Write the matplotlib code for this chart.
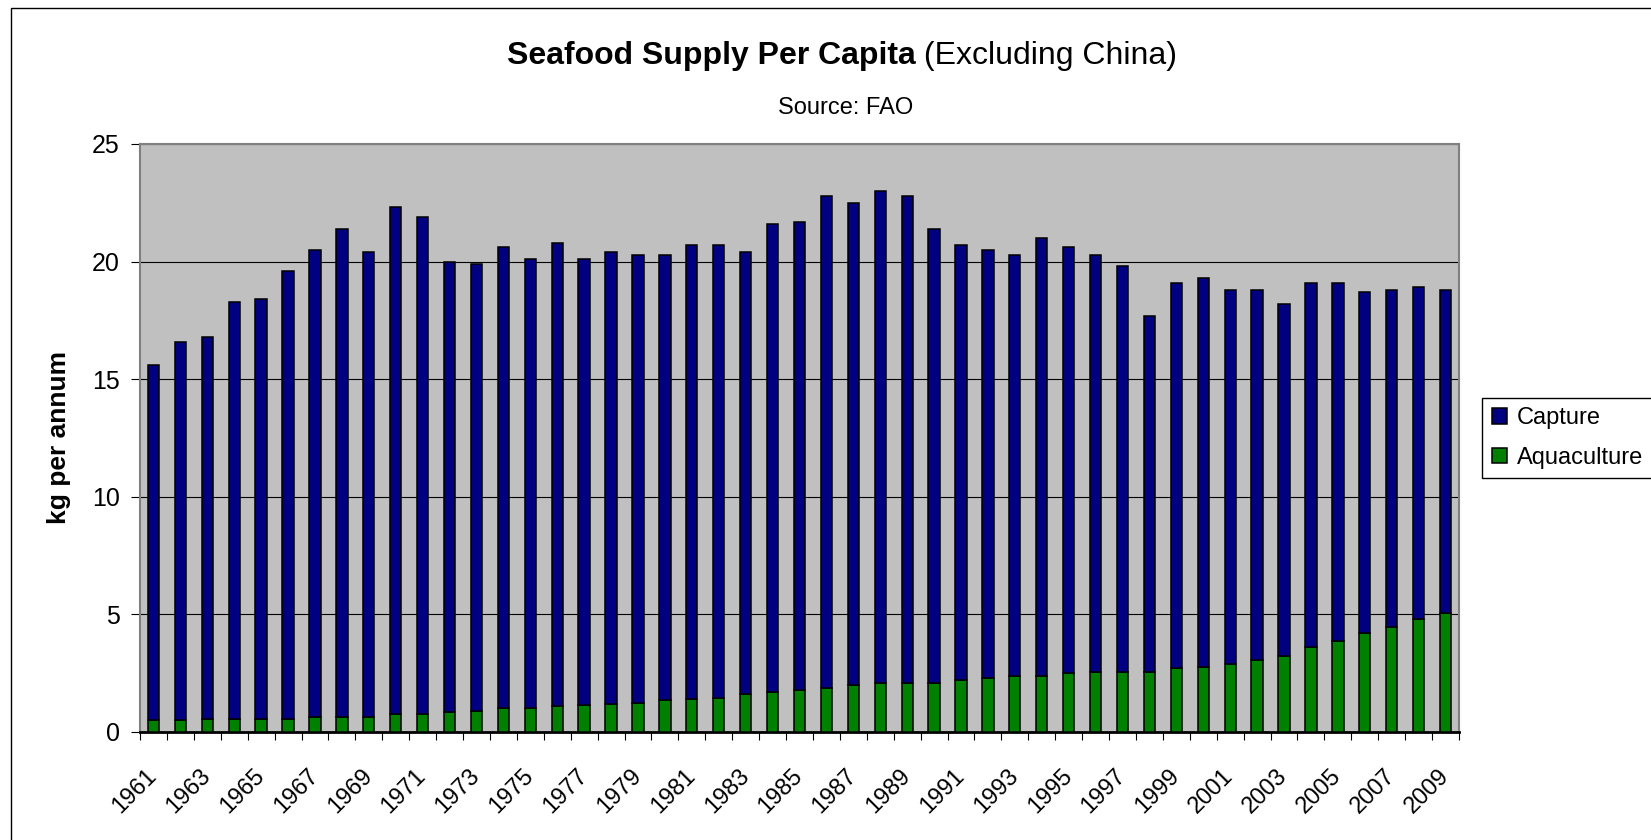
import numpy as np
import matplotlib.pyplot as plt
from matplotlib.patches import Rectangle

years = list(range(1961, 2010))
total = [15.6, 16.6, 16.8, 18.3, 18.4, 19.6, 20.5, 21.4, 20.4, 22.3,
         21.9, 20.0, 19.9, 20.6, 20.1, 20.8, 20.1, 20.4, 20.3, 20.3,
         20.7, 20.7, 20.4, 21.6, 21.7, 22.8, 22.5, 23.0, 22.8, 21.4,
         20.7, 20.5, 20.3, 21.0, 20.6, 20.3, 19.8, 17.7, 19.1, 19.3,
         18.8, 18.8, 18.2, 19.1, 19.1, 18.7, 18.8, 18.9, 18.8]
aquaculture = [0.5, 0.5, 0.55, 0.55, 0.55, 0.55, 0.65, 0.65, 0.65, 0.75,
               0.75, 0.85, 0.9, 1.0, 1.0, 1.1, 1.15, 1.2, 1.25, 1.35,
               1.4, 1.45, 1.6, 1.7, 1.8, 1.85, 2.0, 2.1, 2.1, 2.1,
               2.2, 2.3, 2.4, 2.4, 2.5, 2.55, 2.55, 2.55, 2.7, 2.75,
               2.9, 3.05, 3.25, 3.6, 3.85, 4.2, 4.45, 4.8, 5.05]
capture = [t - a for t, a in zip(total, aquaculture)]

plt.rcParams['font.family'] = ['Liberation Sans', 'DejaVu Sans']

fig = plt.figure(figsize=(16.51, 8.40), dpi=100)
ax = fig.add_axes([0.0848, 0.1286, 0.7989, 0.7])
ax.set_facecolor('#C0C0C0')

x = np.arange(len(years))
ax.bar(x, aquaculture, width=0.42, color='#008000', edgecolor='black', linewidth=1.1, label='Aquaculture', zorder=3)
ax.bar(x, capture, width=0.42, bottom=aquaculture, color='#000080', edgecolor='black', linewidth=1.1, label='Capture', zorder=3)

ax.set_xlim(-0.5, len(years) - 0.5)
ax.set_ylim(0, 25)
ax.set_yticks([0, 5, 10, 15, 20, 25])
ax.tick_params(axis='y', labelsize=18, length=6.5, pad=8, direction='out', color='black')
ax.yaxis.grid(True, color='black', linewidth=0.8, zorder=1)

# tick marks between categories, labels every other year
ax.set_xticks(np.arange(-0.5, len(years), 1))
ax.set_xticklabels([])
ax.tick_params(axis='x', length=6, color='black')
ax.set_xticks(x[::2], minor=True)
ax.set_xticklabels([str(y) for y in years[::2]], minor=True, rotation=45,
                   ha='right', va='center', rotation_mode='anchor', fontsize=17)
ax.tick_params(axis='x', which='minor', length=0, pad=29)

for s in ['top', 'right', 'left']:
    ax.spines[s].set_color('#808080')
    ax.spines[s].set_linewidth(1.5)
ax.spines['bottom'].set_color('black')
ax.spines['bottom'].set_linewidth(2)

ax.set_ylabel('kg per annum', fontsize=19, fontweight='bold', labelpad=15)

h, l = ax.get_legend_handles_labels()
ax.legend(h[::-1], l[::-1], loc='center left', bbox_to_anchor=(1.0175, 0.5), fontsize=17,
          frameon=True, fancybox=False, edgecolor='black', framealpha=1,
          handlelength=0.64, handleheight=0.64, handletextpad=0.42, borderpad=0.4,
          labelspacing=0.74, borderaxespad=0)

fig.text(0.5545, 0.933, 'Seafood Supply Per Capita', fontsize=23, fontweight='bold', ha='right', va='center')
fig.text(0.5545, 0.933, ' (Excluding China)', fontsize=23, ha='left', va='center')
fig.text(0.512, 0.872, 'Source: FAO', fontsize=17, ha='center', va='center')

fig.patches.append(Rectangle((0.0067, -0.1), 1.2, 1.09, transform=fig.transFigure,
                             fill=False, edgecolor='black', linewidth=1))

plt.savefig('out.png', dpi=100)
